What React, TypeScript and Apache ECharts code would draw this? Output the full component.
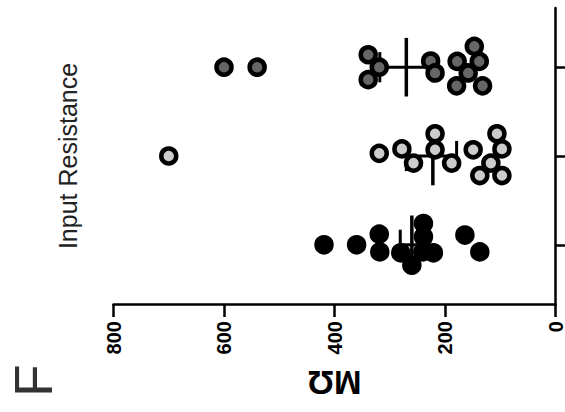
import React, { useEffect, useRef } from "react";
import * as echarts from "echarts";

// Axis ticks (MΩ)
const valueTicks = [0, 200, 400, 600, 800];
// Group positions along the category axis (bottom to top)
const groupPositions = [1, 2, 3];

// Group 1 (black)
const blackValues = [419, 360, 319, 318, 280, 260, 239, 239, 221, 164, 137, 240];
const blackJitter = [0, 0, 0.12, -0.08, -0.09, -0.23, 0.24, 0.09, -0.09, 0.11, -0.08, -0.08];
// Group 2 (light gray)
const lightValues = [319, 278, 257, 218, 218, 188, 149, 106, 97, 117, 137, 97, 700];
const lightJitter = [0.03, 0.08, -0.08, 0.25, 0.07, -0.08, 0.07, 0.25, 0.08, -0.08, -0.22, -0.22, 0];
// Group 3 (dark gray)
const darkValues = [339, 319, 339, 226, 218, 147, 178, 138, 158, 179, 132, 600, 540];
const darkJitter = [0.14, 0, -0.14, 0.07, -0.065, 0.234, 0.065, 0.065, -0.065, -0.21, -0.21, 0, 0];

// Mean ± SEM per group
const groupMeans = [260, 222, 270];
const semLow = [239, 179, 222];
const semHigh = [281, 270, 318];

const FONT = "'Liberation Sans', Arial, Helvetica, sans-serif";

export default function App() {
  const ref = useRef<HTMLDivElement>(null);

  useEffect(() => {
    if (!ref.current) return;
    const chart = echarts.init(ref.current, null, { renderer: "svg" });

    const toPoints = (vals: number[], jit: number[], pos: number) =>
      vals.map((v, i) => [v, pos + jit[i]]);

    const summaryData = groupPositions.map((p, i) => [groupMeans[i], p, semLow[i], semHigh[i]]);

    const pointStyle = (fill: string) => ({
      type: "scatter" as const,
      symbol: "circle",
      symbolSize: 15,
      z: 3,
      itemStyle: { color: fill, borderColor: "#000", borderWidth: 4.5, opacity: 1 },
      emphasis: { disabled: true },
    });

    chart.setOption({
      animation: false,
      grid: { left: 113.5, right: 9.5, top: 8, bottom: 108, containLabel: false, outerBoundsMode: "none" },
      xAxis: {
        type: "value",
        inverse: true,
        min: valueTicks[0],
        max: valueTicks[valueTicks.length - 1],
        interval: 200,
        axisLine: { show: true, onZero: false, lineStyle: { color: "#000", width: 2.5 } },
        axisTick: { show: true, length: 13, lineStyle: { color: "#000", width: 2.5 } },
        axisLabel: {
          rotate: 90,
          margin: 17,
          fontSize: 20,
          fontWeight: "bold",
          color: "#000",
          fontFamily: FONT,
        },
        splitLine: { show: false },
        name: "MΩ",
        nameLocation: "middle",
        nameRotate: 180,
        nameGap: 62,
        nameTextStyle: { fontSize: 33, fontWeight: "bold", color: "#000", fontFamily: FONT },
      },
      yAxis: {
        type: "value",
        position: "right",
        min: 1 / 3,
        max: 11 / 3,
        axisLine: { show: true, onZero: false, lineStyle: { color: "#000", width: 2.5 } },
        axisTick: { show: true, inside: false, length: 13, customValues: groupPositions, lineStyle: { color: "#000", width: 2.5 } },
        axisLabel: { show: false, customValues: groupPositions },
        splitLine: { show: false },
      },
      graphic: [
        {
          type: "text",
          x: 67.7,
          y: 156,
          rotation: Math.PI / 2,
          style: {
            text: "Input Resistance",
            font: `25px ${FONT}`,
            fill: "#222",
            textAlign: "center",
            textVerticalAlign: "middle",
          },
        },
        {
          type: "text",
          x: 33,
          y: 380.5,
          rotation: Math.PI / 2,
          style: {
            text: "F",
            font: `53px ${FONT}`,
            fill: "#333",
            textAlign: "center",
            textVerticalAlign: "middle",
          },
        },
      ],
      series: [
        {
          type: "custom",
          z: 1,
          data: summaryData,
          encode: { x: 0, y: 1 },
          renderItem: (params: any, api: any) => {
            const mean = api.value(0);
            const pos = api.value(1);
            const lo = api.value(2);
            const hi = api.value(3);
            const mA = api.coord([mean, pos - 0.33]);
            const mB = api.coord([mean, pos + 0.33]);
            const eA = api.coord([lo, pos]);
            const eB = api.coord([hi, pos]);
            const c1a = api.coord([lo, pos - 0.17]);
            const c1b = api.coord([lo, pos + 0.17]);
            const c2a = api.coord([hi, pos - 0.17]);
            const c2b = api.coord([hi, pos + 0.17]);
            const st = { stroke: "#000", lineWidth: 3 };
            return {
              type: "group",
              children: [
                { type: "line", shape: { x1: mA[0], y1: mA[1], x2: mB[0], y2: mB[1] }, style: { stroke: "#000", lineWidth: 3.5 } },
                { type: "line", shape: { x1: eA[0], y1: eA[1], x2: eB[0], y2: eB[1] }, style: st },
                { type: "line", shape: { x1: c1a[0], y1: c1a[1], x2: c1b[0], y2: c1b[1] }, style: st },
                { type: "line", shape: { x1: c2a[0], y1: c2a[1], x2: c2b[0], y2: c2b[1] }, style: st },
              ],
            };
          },
        },
        { ...pointStyle("#000"), data: toPoints(blackValues, blackJitter, groupPositions[0]) },
        { ...pointStyle("#cccccc"), data: toPoints(lightValues, lightJitter, groupPositions[1]) },
        { ...pointStyle("#666666"), data: toPoints(darkValues, darkJitter, groupPositions[2]) },
      ],
    });

    return () => chart.dispose();
  }, []);

  return (
    <div
      ref={ref}
      style={{ position: "fixed", left: 0, top: 0, width: 565, height: 412, background: "#fff" }}
    />
  );
}
